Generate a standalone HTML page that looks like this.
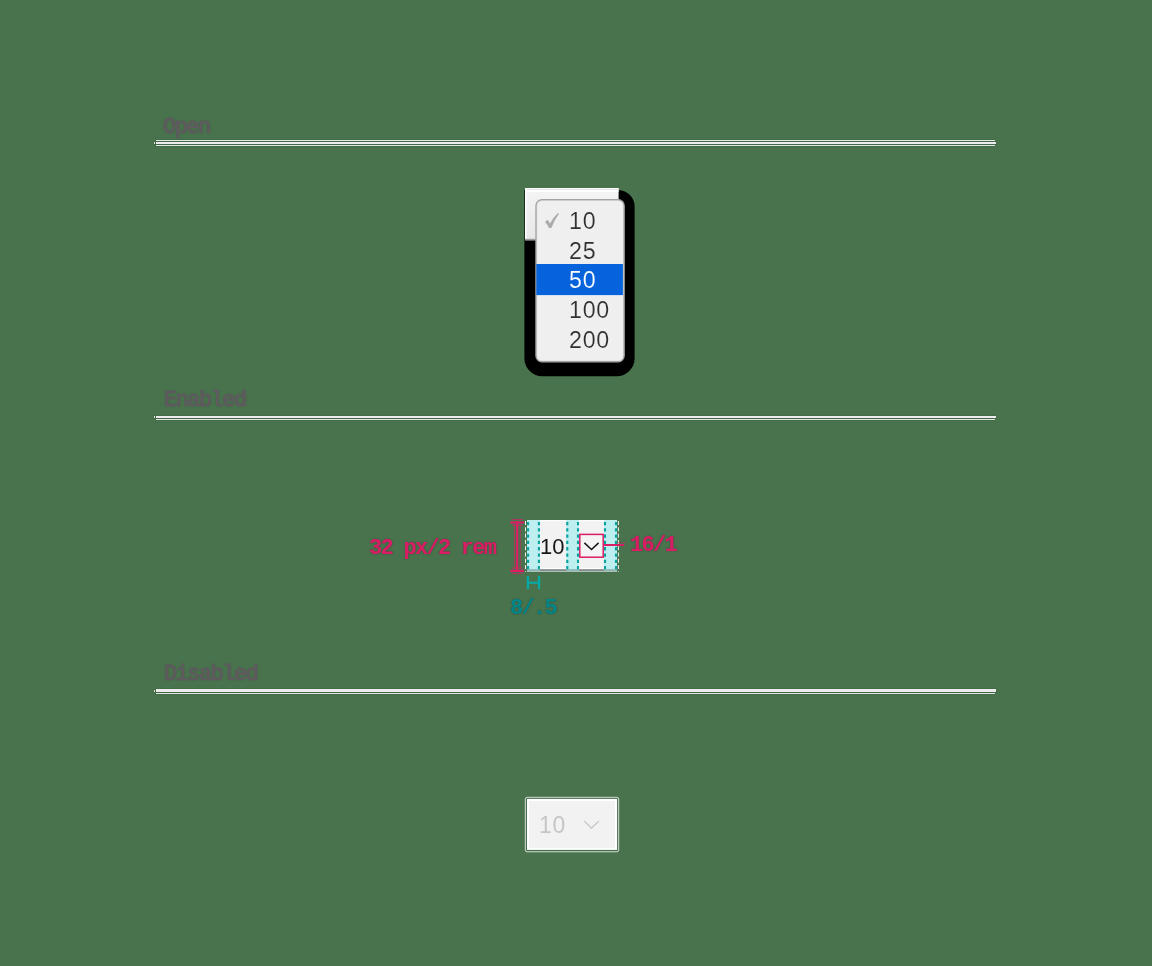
<!DOCTYPE html>
<html>
<head>
<meta charset="utf-8">
<style>
html,body{margin:0;padding:0;}
body{width:1152px;height:966px;background:#48734d;position:relative;overflow:hidden;font-family:"Liberation Sans",sans-serif;}
.abs{position:absolute;}
.h,.mono,.num,.mnu{will-change:transform;}
.h,.mono{text-shadow:0 0 1.2px rgba(45,10,30,.55);}
.h{position:absolute;font-family:"Liberation Mono",monospace;font-size:22px;letter-spacing:-1.55px;line-height:22px;color:#5f5c5f;white-space:pre;-webkit-text-stroke:1px #5f5c5f;}
.ln{position:absolute;background:#e4e4e4;box-shadow:0 0 0 0.7px rgba(58,100,62,.55);}
.mono{position:absolute;font-family:"Liberation Mono",monospace;font-weight:bold;font-size:22px;letter-spacing:-1.72px;line-height:22px;white-space:pre;}
.pink{color:#da1e66;}
.teal{color:#00878a;}
.num{position:absolute;font-size:22px;line-height:24px;white-space:pre;}
.mnu{position:absolute;font-size:23.2px;letter-spacing:0.76px;line-height:24px;white-space:pre;color:#303030;-webkit-text-stroke:0.15px #efefef;}
</style>
</head>
<body>

<!-- ===== Section headings + rules ===== -->
<div class="h" style="left:163.3px;top:116.7px;">Open</div>
<div class="ln" style="left:156px;top:140px;width:839px;height:1px;"></div>
<div class="ln" style="left:156px;top:142px;width:840px;height:2px;background:#eeebee;"></div>
<div class="ln" style="left:154px;top:142px;width:1px;height:2px;"></div>
<div class="ln" style="left:156px;top:145px;width:839px;height:1px;"></div>

<div class="h" style="left:164.3px;top:389.8px;">Enabled</div>
<div class="ln" style="left:156px;top:416px;width:840px;height:2px;background:#eeebee;"></div>
<div class="ln" style="left:154px;top:416px;width:1px;height:2px;"></div>
<div class="ln" style="left:156px;top:419px;width:839px;height:1px;"></div>

<div class="h" style="left:164.2px;top:663.5px;">Disabled</div>
<div class="ln" style="left:156px;top:689px;width:840px;height:3px;background:#eeebee;"></div>
<div class="ln" style="left:154px;top:690px;width:1px;height:2px;"></div>
<div class="ln" style="left:156px;top:693px;width:839px;height:1px;"></div>

<!-- ===== All geometry in one SVG (sub-pixel accurate) ===== -->
<svg class="abs" style="left:0;top:0;" width="1152" height="966" viewBox="0 0 1152 966">
<!-- Open: shadow -->
<path d="M524.4 190.3 H618.6 A16 16 0 0 1 634.6 206.3 V358.3 A18 18 0 0 1 616.6 376.3 H542.4 A18 18 0 0 1 524.4 358.3 Z" fill="#000"/>
<!-- Open: select behind -->
<rect x="525" y="188" width="93.6" height="4" fill="#f4f4f4"/>
<rect x="525" y="192" width="93.6" height="4" fill="#f3f3f3"/>
<rect x="525" y="196" width="93.6" height="4" fill="#f2f2f2"/>
<rect x="525" y="200" width="93.6" height="4" fill="#f1f1f1"/>
<rect x="525" y="204" width="93.6" height="4" fill="#f0f0f0"/>
<rect x="525" y="208" width="93.6" height="4" fill="#efefef"/>
<rect x="525" y="212" width="93.6" height="4" fill="#eeeeee"/>
<rect x="525" y="216" width="93.6" height="4" fill="#ededed"/>
<rect x="525" y="220" width="93.6" height="4" fill="#ececec"/>
<rect x="525" y="224" width="93.6" height="4" fill="#ebebeb"/>
<rect x="525" y="228" width="93.6" height="4" fill="#eaeaea"/>
<rect x="525" y="232" width="93.6" height="4" fill="#e9e9e9"/>
<rect x="525" y="236" width="93.6" height="4.3" fill="#e8e8e8"/>
<rect x="525" y="188" width="93.6" height="1" fill="#fff"/>
<rect x="526.4" y="189" width="92.2" height="0.8" fill="#d6dad6"/>
<rect x="525" y="189.8" width="93.6" height="1.9" fill="#fff"/>
<rect x="525" y="188" width="1.5" height="51" fill="#fff"/>
<rect x="525" y="238.8" width="93.6" height="1.5" fill="#9a9a9a"/>
<!-- Open: menu -->
<rect x="535.95" y="199.65" width="88.2" height="162.2" rx="6" fill="#efefef" stroke="#a4a4a4" stroke-width="1.3"/>
<rect x="536.9" y="200.6" width="86.3" height="160.3" rx="5.2" fill="none" stroke="rgba(0,0,0,.07)" stroke-width="1"/>
<rect x="536.3" y="264" width="86.6" height="31.1" fill="#0663dc"/>
<path transform="translate(544 211)" d="M1 10.7 L3.9 8.7 L6 12.4 Q9.5 6 14 2 L15 2.7 Q10.5 8.5 7.3 17 L5 17 Q3.5 13.5 1 10.7Z" fill="#ababab"/>

<!-- Enabled: select -->
<rect x="527" y="520" width="90" height="49.4" fill="#f2f2f2"/>
<rect x="527" y="520" width="90" height="1.3" fill="#fcfcfc"/>
<rect x="527" y="567.8" width="90" height="1.6" fill="#fff"/>
<rect x="527" y="569.3" width="90" height="1.6" fill="#8a8a8a"/>
<g fill="#bdeef0">
<rect x="527" y="520" width="12.9" height="49.4"/><rect x="566.2" y="520" width="12.8" height="49.4"/><rect x="604" y="520" width="13" height="49.4"/>
</g>
<g fill="#8ebdbb">
<rect x="527" y="569.3" width="12.9" height="1.6"/><rect x="566.2" y="569.3" width="12.8" height="1.6"/><rect x="604" y="569.3" width="13" height="1.6"/>
</g>
<rect x="527" y="570.9" width="90" height="1" fill="#b3c9c6"/>
<g stroke="#07a3a1" stroke-width="2.1" stroke-dasharray="3.3 3" fill="none">
<path d="M528.1 521.9V569.4"/><path d="M538.9 521.9V569.4"/>
<path d="M567.3 521.9V569.4"/><path d="M578 521.9V569.4"/>
<path d="M605 521.9V569.4"/><path d="M616 521.9V569.4"/>
</g>
<g stroke="#f4f4f4" stroke-width="1" stroke-dasharray="4 2.3" fill="none">
<path d="M525.5 521V572"/><path d="M618.4 521V572"/>
</g>
<!-- pink icon box + chevron + connector -->
<rect x="579.8" y="534.4" width="23.4" height="22.8" fill="#f4f4f4" stroke="#da1e66" stroke-width="1.5"/>
<path d="M584.4 542.9 L591.5 549.5 L598.6 542.9" fill="none" stroke="#161616" stroke-width="1.5"/>
<rect x="604" y="544" width="20" height="2" fill="#da1e66"/>
<rect x="617.5" y="542.3" width="8" height="0.6" fill="#da1e66" opacity=".8"/>
<!-- I-beam -->
<g fill="#da1e66">
<rect x="516" y="521.3" width="2.2" height="50.7"/>
<rect x="510.4" y="521.3" width="13.6" height="2.3"/>
<rect x="510.4" y="569.8" width="13.6" height="2.3"/>
<g opacity=".85">
<rect x="514" y="524.5" width="0.8" height="44.5"/><rect x="519.8" y="524.5" width="0.8" height="44.5"/>
<rect x="511.5" y="519.1" width="11.5" height="0.8"/><rect x="511.5" y="573.3" width="11.5" height="0.8"/>
<rect x="512" y="524.9" width="10.5" height="0.8"/><rect x="512" y="567.7" width="10.5" height="0.8"/>
</g>
</g>
<!-- teal H -->
<g fill="#07a9a7">
<rect x="526.8" y="575.9" width="2.3" height="13.1"/><rect x="537.9" y="575.9" width="2.3" height="13.1"/><rect x="526.8" y="581.7" width="13.4" height="2.1"/>
</g>

<!-- Disabled select -->
<rect x="525.3" y="797.3" width="93.4" height="54.5" rx="1.8" fill="none" stroke="#e8e8e8" stroke-width="0.9"/>
<rect x="527" y="798.9" width="90.1" height="51" fill="#fff"/>
<rect x="529" y="801" width="86" height="47" fill="#f2f2f2"/>
<path d="M584.2 821.1 L591.5 828.2 L598.8 821.1" fill="none" stroke="#c2c2c2" stroke-width="1.3"/>
</svg>

<!-- ===== Text ===== -->
<div class="mnu" style="left:568.5px;top:208.9px;">10</div>
<div class="mnu" style="left:568.5px;top:238.6px;">25</div>
<div class="mnu" style="left:568.5px;top:268.3px;color:#fff;-webkit-text-stroke:0.15px #0663dc;">50</div>
<div class="mnu" style="left:568.5px;top:298.0px;">100</div>
<div class="mnu" style="left:568.5px;top:327.7px;">200</div>
<div class="num" style="left:540px;top:534.5px;color:#161616;">10</div>
<div class="mono pink" style="left:369.2px;top:538.3px;">32 px/2 rem</div>
<div class="mono pink" style="left:630.4px;top:535.3px;">16/1</div>
<div class="mono teal" style="left:510px;top:597.9px;">8/.5</div>
<div class="num" style="left:539px;top:812.7px;color:#c6c6c6;font-size:23px;letter-spacing:0.7px;">10</div>

</body>
</html>
